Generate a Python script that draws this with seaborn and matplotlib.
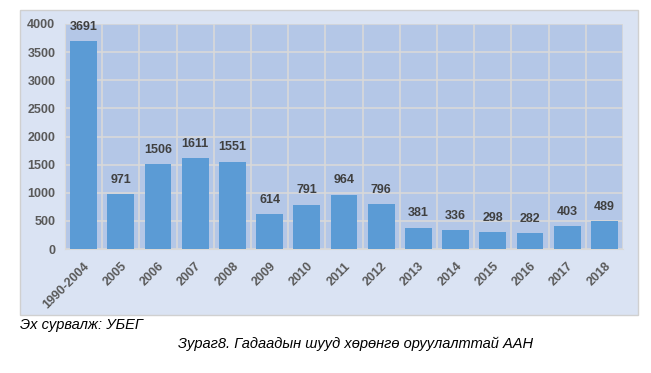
import numpy as np
import pandas as pd
import matplotlib.pyplot as plt
import matplotlib.patches as mpatches
import seaborn as sns

years = ['1990-2004', '2005', '2006', '2007', '2008', '2009', '2010', '2011',
         '2012', '2013', '2014', '2015', '2016', '2017', '2018']
counts = [3691, 971, 1506, 1611, 1551, 614, 791, 964, 796, 381, 336, 298, 282, 403, 489]

df = pd.DataFrame({'year': years, 'count': counts})

sns.set_style('white')
plt.rcParams['font.family'] = ['Liberation Sans', 'DejaVu Sans']

fig = plt.figure(figsize=(6.51, 3.73), dpi=100)

# outer chart box
box = mpatches.Rectangle((20 / 651, 1 - 315 / 373), 618 / 651, 305 / 373,
                         transform=fig.transFigure, facecolor='#DAE3F3',
                         edgecolor='#D0D0D0', linewidth=1, zorder=-10)
fig.patches.append(box)

ax = fig.add_axes([65 / 651, 1 - 249 / 373, 558 / 651, 225 / 373])
ax.set_facecolor('#B4C7E7')

sns.barplot(data=df, x='year', y='count', color='#5B9BD5', width=0.72,
            saturation=1, linewidth=0, edgecolor='none', ax=ax, zorder=3)

ax.set_ylim(0, 4000)
ax.set_xlim(-0.5, len(years) - 0.5)
ax.set_yticks(np.arange(0, 4001, 500))
ax.set_xticks(np.arange(-0.5, len(years), 1), minor=True)
ax.grid(axis='y', which='major', color='#D9D9D9', linewidth=1.2, zorder=1)
ax.grid(axis='x', which='minor', color='#D9D9D9', linewidth=1.2, zorder=1)
ax.set_axisbelow(True)

for s in ['top', 'right']:
    ax.spines[s].set_visible(False)
ax.spines['left'].set_color('#D9D9D9')
ax.spines['bottom'].set_color('#D9D9D9')

ax.set_xlabel('')
ax.set_ylabel('')
ax.tick_params(axis='both', which='both', length=0, colors='#595959')
ax.tick_params(axis='y', pad=7)
for lab in ax.get_yticklabels():
    lab.set_fontsize(9)
    lab.set_fontweight('bold')
ax.set_xticks(range(len(years)))
ax.set_xticklabels(years, rotation=45, ha='right', rotation_mode='anchor',
                   fontsize=9, fontweight='bold', color='#595959')
ax.tick_params(axis='x', pad=8)

for i, v in enumerate(counts):
    ax.annotate(str(v), (i, v), xytext=(0, 6), textcoords='offset points',
                ha='center', va='bottom', fontsize=9, fontweight='bold',
                color='#404040', zorder=4)

fig.text(20 / 651, 1 - 325 / 373, 'Эх сурвалж: УБЕГ', fontsize=10.5,
         style='italic', va='center', ha='left', color='black')
fig.text(356 / 651, 1 - 344 / 373, 'Зураг8. Гадаадын шууд хөрөнгө оруулалттай ААН',
         fontsize=10.5, style='italic', va='center', ha='center', color='black')

fig.savefig('out.png', dpi=100)
